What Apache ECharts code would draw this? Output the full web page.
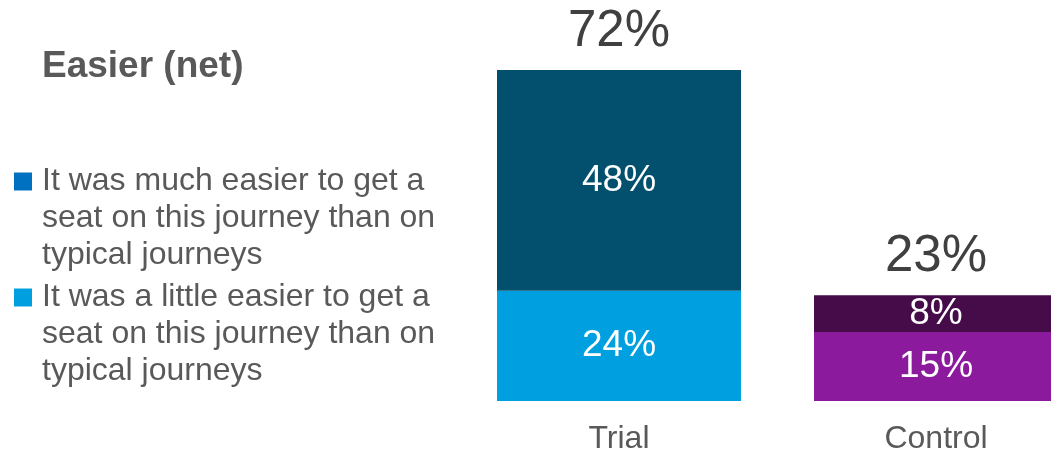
<!DOCTYPE html>
<html>
<head>
<meta charset="utf-8">
<script src="https://cdn.jsdelivr.net/npm/echarts@6/dist/echarts.min.js"></script>
<style>html,body{margin:0;padding:0;background:#fff}#c{width:1051px;height:455px}</style>
</head>
<body>
<div id="c"></div>
<script>
const categories = ['Trial', 'Control'];
const muchEasier = [48, 8];
const littleEasier = [24, 15];
const totals = [72, 23];
const seriesNames = [
  'It was much easier to get a\nseat on this journey than on\ntypical journeys',
  'It was a little easier to get a\nseat on this journey than on\ntypical journeys'
];
const titleText = 'Easier (net)';

const FONT = 'Arial, "Liberation Sans", sans-serif';
const darkColors = ['#02506E', '#460C4A'];
const lightColors = ['#009FDF', '#8B1A9C'];

const chart = echarts.init(document.getElementById('c'));
const insideLabel = {
  show: true, position: 'inside', color: '#ffffff', fontSize: 37, fontFamily: FONT,
  formatter: p => p.value + '%'
};
chart.setOption({
  animation: false,
  title: {
    text: titleText, left: 42, top: 48, padding: 0,
    textStyle: { fontSize: 37, fontWeight: 'bold', color: '#595959', fontFamily: FONT }
  },
  legend: {
    data: [seriesNames[0], seriesNames[1]],
    orient: 'vertical', left: 14, top: 89, padding: 0,
    itemWidth: 18, itemHeight: 18, itemGap: -69,
    icon: 'rect', selectedMode: false,
    formatter: name => '\n\n' + name.split('\n').map(l => '{t|' + l + '}').join('\n'),
    textStyle: {
      fontSize: 32, lineHeight: 37, color: '#595959', fontFamily: FONT,
      rich: { t: { fontSize: 32, lineHeight: 37, color: '#595959', fontFamily: FONT, padding: [0, 0, 0, 5] } }
    }
  },
  grid: { left: 619, width: 317, top: 70, height: 331 },
  xAxis: {
    type: 'category', data: categories, boundaryGap: false,
    axisLine: { show: false }, axisTick: { show: false },
    axisLabel: { color: '#595959', fontSize: 32, fontFamily: FONT, margin: 22 }
  },
  yAxis: { type: 'value', min: 0, max: 72, show: false, splitLine: { show: false } },
  series: [
    {
      name: seriesNames[1], type: 'bar', stack: 'a', barWidth: 244, barGap: '-100%',
      itemStyle: { color: '#00A0E0' },
      data: littleEasier.map((v, i) => ({ value: v, itemStyle: { color: lightColors[i] } })),
      label: insideLabel
    },
    {
      name: seriesNames[0], type: 'bar', stack: 'a', barWidth: 244, barGap: '-100%',
      itemStyle: { color: '#0070C0' },
      data: muchEasier.map((v, i) => ({ value: v, itemStyle: { color: darkColors[i] } })),
      label: insideLabel
    },
    {
      name: 'Total', type: 'bar', barWidth: 244, barGap: '-100%', z: 1,
      itemStyle: { color: 'rgba(0,0,0,0)' },
      data: totals,
      label: {
        show: true, position: 'top', distance: 13, color: '#404040', fontSize: 51, fontFamily: FONT,
        formatter: p => p.value + '%'
      }
    }
  ]
});
</script>
</body>
</html>
